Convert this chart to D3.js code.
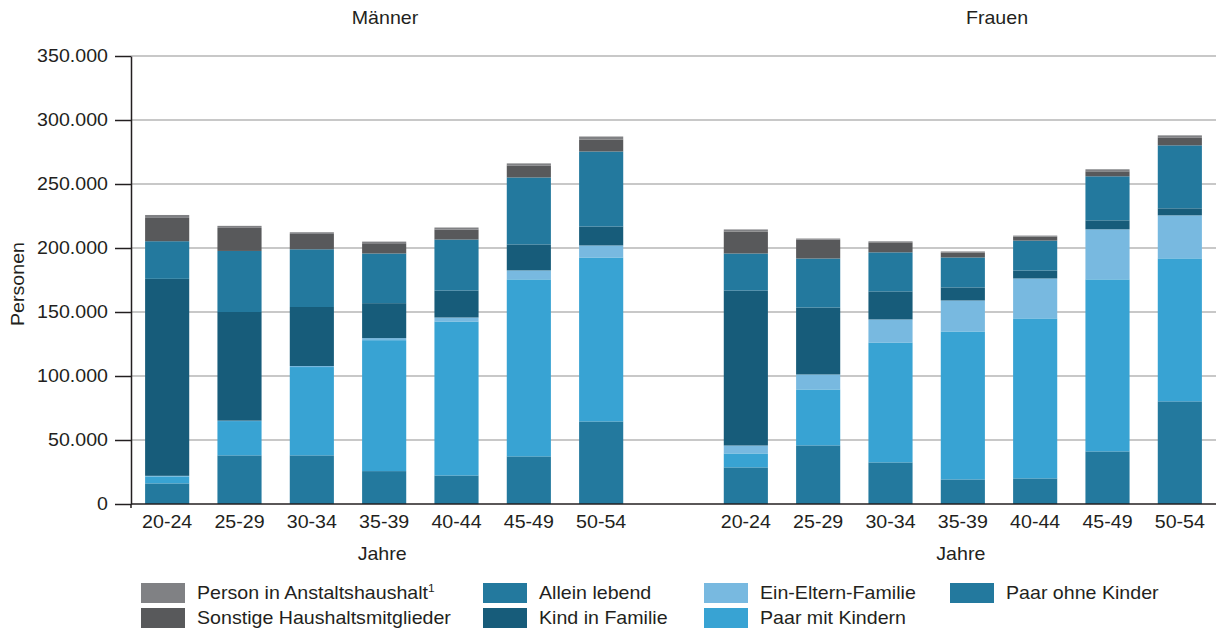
<!DOCTYPE html>
<html>
<head>
<meta charset="utf-8">
<script src="https://cdn.jsdelivr.net/npm/d3@7"></script>
<style>
  html, body { margin: 0; padding: 0; background: #fff; }
  svg { display: block; font-family: "Liberation Sans", Arial, sans-serif; }
</style>
</head>
<body>
<svg id="chart" width="1216" height="630"></svg>
<script>
// ---- Data ----
const ageGroups = ["20-24", "25-29", "30-34", "35-39", "40-44", "45-49", "50-54"];
const groups = ["Männer", "Frauen"];
const seriesKeys = ["Paar ohne Kinder", "Paar mit Kindern", "Ein-Eltern-Familie", "Kind in Familie", "Allein lebend", "Sonstige Haushaltsmitglieder", "Person in Anstaltshaushalt"];

// values per age group (Männer)
const maennerPaarOhne   = [16100, 38000, 38000, 25700, 22300, 37200, 64500];
const maennerPaarMit    = [5500, 26800, 69000, 102300, 120300, 138300, 128100];
const maennerEinEltern  = [400, 300, 800, 1600, 3100, 7000, 9400];
const maennerKind       = [153900, 84900, 46100, 27300, 21100, 20300, 14800];
const maennerAllein     = [29400, 47700, 45100, 38800, 39800, 52300, 58600];
const maennerSonstige   = [18200, 18000, 12000, 8000, 7800, 9400, 9400];
const maennerAnstalt    = [2300, 1600, 1300, 1300, 1600, 1600, 2300];

// values per age group (Frauen)
const frauenPaarOhne    = [28600, 45800, 32500, 19200, 20000, 41100, 80200];
const frauenPaarMit     = [10900, 43700, 93700, 115600, 125000, 134400, 111700];
const frauenEinEltern   = [6200, 11700, 18000, 24200, 31200, 39100, 33600];
const frauenKind        = [121100, 52300, 21900, 10200, 6200, 7000, 5500];
const frauenAllein      = [28900, 38300, 30500, 23400, 23400, 34400, 49200];
const frauenSonstige    = [17200, 14800, 7800, 3900, 3100, 3900, 6200];
const frauenAnstalt     = [1600, 800, 800, 800, 800, 1600, 1600];

const yTicks = [0, 50000, 100000, 150000, 200000, 250000, 300000, 350000];

const colors = {
  "Paar ohne Kinder": "#23799e",
  "Paar mit Kindern": "#38a3d3",
  "Ein-Eltern-Familie": "#78b9e0",
  "Kind in Familie": "#175c7a",
  "Allein lebend": "#23799e",
  "Sonstige Haushaltsmitglieder": "#58595b",
  "Person in Anstaltshaushalt": "#808184"
};

// ---- Build table ----
const seriesByGroup = {
  "Männer": [maennerPaarOhne, maennerPaarMit, maennerEinEltern, maennerKind, maennerAllein, maennerSonstige, maennerAnstalt],
  "Frauen": [frauenPaarOhne, frauenPaarMit, frauenEinEltern, frauenKind, frauenAllein, frauenSonstige, frauenAnstalt]
};
const rows = [];
groups.forEach(g => {
  ageGroups.forEach((a, i) => {
    const r = { key: g + "|" + a, group: g, age: a };
    seriesKeys.forEach((k, si) => { r[k] = seriesByGroup[g][si][i]; });
    rows.push(r);
  });
});

const xDomain = [...ageGroups.map(a => "Männer|" + a), "gap", ...ageGroups.map(a => "Frauen|" + a)];

// ---- Layout ----
const svg = d3.select("#chart");
const plotLeft = 131, plotRight = 1216, plotTop = 56, plotBottom = 504;
const textColor = "#231f20";
const FS = "18px";
const SX = 1.09; // horizontal stretch of the reference typeface

const x = d3.scaleBand().domain(xDomain).range([plotLeft, plotRight]).paddingInner(0.39).paddingOuter(0.195);
const y = d3.scaleLinear().domain([0, 350000]).range([plotBottom, plotTop]);

const de = d3.formatLocale({ decimal: ",", thousands: ".", grouping: [3], currency: ["", " €"] });
const fmt = de.format(",");

// helper: text at (px,py) stretched horizontally
function addText(parent, px, py, str, anchor) {
  return parent.append("text")
    .attr("transform", `translate(${px},${py}) scale(${SX},1)`)
    .attr("text-anchor", anchor || "start")
    .attr("fill", textColor).style("font-size", FS)
    .text(str);
}

// gridlines
svg.append("g")
  .selectAll("line")
  .data(yTicks.filter(t => t > 0))
  .join("line")
  .attr("x1", plotLeft).attr("x2", plotRight)
  .attr("y1", d => y(d)).attr("y2", d => y(d))
  .attr("stroke", "#c8c8c8").attr("stroke-width", 2);

// bars
const stack = d3.stack().keys(seriesKeys);
const stacked = stack(rows);
svg.append("g")
  .selectAll("g")
  .data(stacked)
  .join("g")
  .attr("fill", d => colors[d.key])
  .selectAll("rect")
  .data(d => d)
  .join("rect")
  .attr("x", d => x(d.data.key))
  .attr("width", x.bandwidth())
  .attr("y", d => y(d[1]))
  .attr("height", d => y(d[0]) - y(d[1]));

// y axis
const yAxis = svg.append("g")
  .attr("transform", `translate(${plotLeft},0)`)
  .call(d3.axisLeft(y).tickValues(yTicks).tickFormat(fmt).tickSize(16).tickPadding(7).tickSizeOuter(0));
yAxis.select(".domain").attr("stroke", textColor).attr("stroke-width", 1.5);
yAxis.selectAll(".tick line").attr("stroke", textColor).attr("stroke-width", 1.5);
yAxis.selectAll(".tick text").attr("fill", textColor).style("font-size", FS)
  .style("font-family", "'Liberation Sans', Arial, sans-serif")
  .each(function () {
    const t = d3.select(this);
    const tx = +t.attr("x");
    t.attr("x", 0).attr("transform", `translate(${tx},0) scale(${SX},1)`);
  });

// x axis
const xAxis = svg.append("g")
  .attr("transform", `translate(0,${plotBottom})`)
  .call(d3.axisBottom(x).tickValues(xDomain.filter(k => k !== "gap"))
    .tickFormat(k => k.split("|")[1]).tickSize(0).tickPadding(11).tickSizeOuter(0));
xAxis.select(".domain").attr("stroke", textColor).attr("stroke-width", 1.5)
  .attr("d", `M${plotLeft},0H${plotRight}`);
xAxis.selectAll(".tick text").attr("fill", textColor).style("font-size", FS)
  .style("font-family", "'Liberation Sans', Arial, sans-serif")
  .attr("transform", `scale(${SX},1)`);

// small downward extension of y axis
svg.append("line").attr("x1", plotLeft).attr("x2", plotLeft).attr("y1", plotBottom).attr("y2", plotBottom + 4)
  .attr("stroke", textColor).attr("stroke-width", 1.5);

// y axis title
svg.append("text")
  .attr("transform", `translate(24,${(plotTop + plotBottom) / 2 + 4}) rotate(-90) scale(${SX},1)`)
  .attr("text-anchor", "middle")
  .attr("fill", textColor).style("font-size", FS)
  .text("Personen");

const groupCenter = g => {
  const first = x(g + "|" + ageGroups[0]);
  const last = x(g + "|" + ageGroups[ageGroups.length - 1]) + x.bandwidth();
  return (first + last) / 2;
};
groups.forEach(g => addText(svg, groupCenter(g) - 2, 560, "Jahre", "middle"));

// group titles
addText(svg, 385, 24, "Männer", "middle");
addText(svg, 997, 24, "Frauen", "middle");

// legend
const legendItems = [
  { key: "Person in Anstaltshaushalt", sup: "1", col: 0, row: 0 },
  { key: "Sonstige Haushaltsmitglieder", col: 0, row: 1 },
  { key: "Allein lebend", col: 1, row: 0 },
  { key: "Kind in Familie", col: 1, row: 1 },
  { key: "Ein-Eltern-Familie", col: 2, row: 0 },
  { key: "Paar mit Kindern", col: 2, row: 1 },
  { key: "Paar ohne Kinder", col: 3, row: 0 }
];
const colX = [141, 483, 704, 950];
const rowY = [583, 608];
const lg = svg.append("g");
legendItems.forEach(it => {
  const gx = colX[it.col], gy = rowY[it.row];
  lg.append("rect").attr("x", gx).attr("y", gy).attr("width", 44).attr("height", 20)
    .attr("fill", colors[it.key]);
  const t = addText(lg, gx + 56, gy + 16, it.key, "start");
  if (it.sup) {
    t.append("tspan").attr("dy", -7).style("font-size", "11px").text(it.sup);
  }
});
</script>
</body>
</html>
